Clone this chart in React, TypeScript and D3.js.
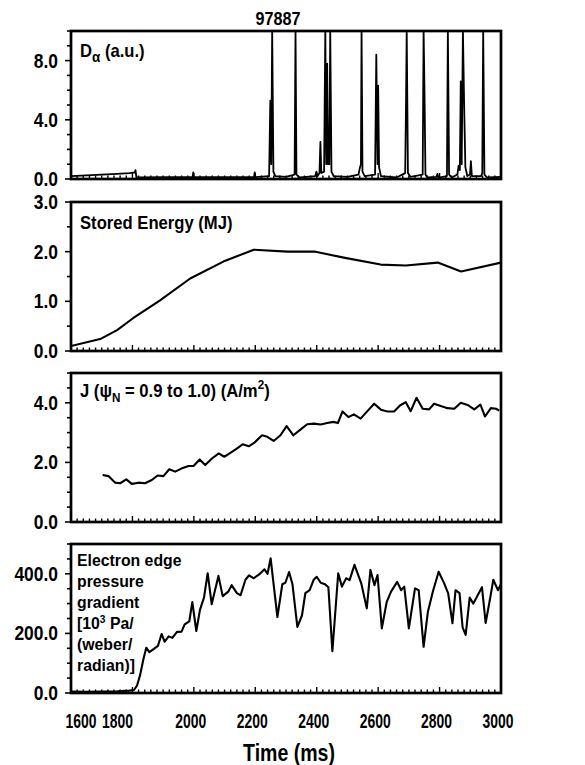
import React from "react";
import * as d3 from "d3";

// shot number and time axis
const shotNumber = "97887";
const timeDomain: [number, number] = [1600, 3000];
const timeTicks = [1600, 1800, 2000, 2200, 2400, 2600, 2800, 3000];

// D-alpha trace (a.u.), spikes clipped at top of panel
const daTrace: [number, number][] = [
  [1600, 0.2], [1650, 0.25], [1700, 0.3], [1750, 0.35], [1790, 0.4], [1808, 0.45], [1810, 0.6], [1813, 0.1],
  [1900, 0.12], [1996, 0.12], [1998, 0.45], [2000, 0.12], [2100, 0.12], [2196, 0.12], [2198, 0.45], [2200, 0.12],
  [2245, 0.2], [2249, 5.3], [2252, 1], [2255, 10], [2259, 0.5], [2265, 0.2], [2300, 0.15], [2328, 0.3],
  [2331, 10], [2334, 0.3], [2345, 0.1], [2395, 0.2], [2399, 0.5], [2403, 0.2], [2409, 0.4], [2412, 2.5],
  [2415, 0.4], [2424, 0.5], [2428, 10], [2431, 1], [2434, 7.8], [2437, 1], [2441, 1], [2444, 10], [2448, 0.5],
  [2455, 0.2], [2500, 0.15], [2536, 0.3], [2541, 0.8], [2544, 1], [2546, 10], [2549, 0.5], [2556, 0.2],
  [2590, 0.3], [2594, 8.4], [2598, 1], [2600, 6.3], [2603, 0.8], [2609, 0.2], [2660, 0.1], [2688, 0.4],
  [2691, 5.5], [2693, 10], [2697, 0.4], [2705, 0.15], [2745, 0.3], [2748, 10], [2751, 5.8], [2754, 0.3],
  [2760, 0.1], [2790, 0.15], [2793, 0.35], [2796, 0.1], [2824, 0.2], [2827, 10], [2831, 0.3], [2840, 0.1],
  [2858, 0.3], [2862, 0.9], [2866, 0.6], [2869, 6.6], [2872, 1], [2876, 10], [2880, 5], [2884, 0.8],
  [2890, 0.2], [2899, 0.3], [2902, 1.2], [2905, 0.2], [2935, 0.2], [2939, 0.4], [2942, 10], [2946, 0.3],
  [2955, 0.1], [3000, 0.15],
];

// stored energy (MJ)
const energyTrace: [number, number][] = [
  [1600, 0.1], [1695, 0.24], [1750, 0.42], [1802, 0.66], [1890, 1.02], [1988, 1.46], [2096, 1.8], [2195, 2.04],
  [2305, 2.0], [2396, 2.0], [2488, 1.88], [2608, 1.74], [2690, 1.72], [2794, 1.78], [2870, 1.6], [3000, 1.78],
];

// J at psi_N 0.9-1.0 (A/m^2)
const currentTrace: [number, number][] = [
  [1703, 1.58], [1722, 1.54], [1744, 1.32], [1760, 1.3], [1780, 1.43], [1798, 1.28], [1820, 1.32], [1841, 1.3],
  [1863, 1.41], [1882, 1.56], [1901, 1.54], [1920, 1.77], [1939, 1.69], [1961, 1.8], [1983, 1.88], [1999, 1.88],
  [2019, 2.1], [2037, 1.91], [2059, 2.13], [2081, 2.3], [2099, 2.19], [2119, 2.32], [2141, 2.47], [2159, 2.61],
  [2179, 2.54], [2197, 2.66], [2222, 2.91], [2239, 2.86], [2260, 2.72], [2282, 2.91], [2302, 3.22], [2324, 2.91],
  [2348, 3.11], [2369, 3.28], [2391, 3.3], [2413, 3.27], [2434, 3.32], [2454, 3.36], [2469, 3.32], [2484, 3.71],
  [2503, 3.52], [2521, 3.61], [2543, 3.47], [2565, 3.72], [2587, 3.97], [2609, 3.77], [2630, 3.71], [2652, 3.71],
  [2671, 3.91], [2690, 4.02], [2706, 3.72], [2725, 4.17], [2745, 3.8], [2766, 3.78], [2782, 3.97], [2804, 3.89],
  [2826, 3.82], [2848, 3.8], [2869, 4.0], [2891, 3.93], [2913, 3.78], [2933, 3.94], [2948, 3.54], [2967, 3.82],
  [2984, 3.8], [2994, 3.74],
];

// electron edge pressure gradient (10^3 Pa/(weber/radian))
const pressureTrace: [number, number][] = [
  [1600, 5], [1650, 4], [1700, 5], [1750, 6], [1790, 8], [1805, 10], [1815, 25], [1825, 60], [1835, 110],
  [1845, 152], [1855, 137], [1870, 148], [1883, 158], [1895, 198], [1905, 172], [1918, 190], [1930, 185],
  [1945, 205], [1960, 206], [1970, 230], [1985, 240], [1995, 305], [2008, 208], [2020, 280], [2033, 320],
  [2045, 402], [2058, 298], [2080, 393], [2094, 325], [2112, 340], [2123, 362], [2140, 335], [2152, 328],
  [2168, 380], [2180, 395], [2195, 385], [2215, 400], [2230, 415], [2240, 400], [2250, 452], [2272, 255],
  [2288, 365], [2298, 370], [2310, 406], [2321, 365], [2337, 222], [2352, 260], [2363, 335], [2377, 345],
  [2390, 380], [2400, 390], [2413, 370], [2427, 365], [2438, 355], [2451, 140], [2470, 402], [2482, 357],
  [2496, 385], [2507, 379], [2523, 430], [2545, 368], [2563, 284], [2575, 413], [2588, 362], [2598, 396],
  [2612, 217], [2628, 306], [2642, 340], [2662, 373], [2675, 345], [2685, 357], [2700, 217], [2720, 351],
  [2732, 345], [2748, 155], [2762, 273], [2778, 340], [2797, 407], [2815, 368], [2828, 334], [2842, 234],
  [2852, 345], [2865, 335], [2875, 220], [2885, 195], [2898, 320], [2910, 300], [2925, 330], [2938, 355],
  [2950, 235], [2965, 320], [2975, 380], [2990, 345], [3000, 365],
];

const daTicks = [0, 4, 8];
const energyTicks = [0, 1, 2, 3];
const currentTicks = [0, 2, 4];
const pressureTicks = [0, 200, 400];

const FONT = "'Liberation Sans', Arial, Helvetica, sans-serif";

const X0 = 71;
const X1 = 501;

type Panel = {
  id: string;
  top: number;
  bottom: number;
  domain: [number, number];
  labelTicks: number[];
  minorStep: number;
  data: [number, number][];
};

const panels: Panel[] = [
  { id: "da", top: 31, bottom: 179, domain: [0, 10], labelTicks: daTicks, minorStep: 1, data: daTrace },
  { id: "we", top: 202, bottom: 351, domain: [0, 3], labelTicks: energyTicks, minorStep: 0.5, data: energyTrace },
  { id: "j", top: 373, bottom: 522, domain: [0, 5], labelTicks: currentTicks, minorStep: 0.5, data: currentTrace },
  { id: "pe", top: 544, bottom: 693, domain: [0, 500], labelTicks: pressureTicks, minorStep: 50, data: pressureTrace },
];

// condensed bold text, like the narrow Helvetica of the original
function T({
  x,
  y,
  size,
  sx = 0.78,
  anchor = "start",
  children,
}: {
  x: number;
  y: number;
  size: number;
  sx?: number;
  anchor?: string;
  children: React.ReactNode;
}) {
  return (
    <text
      transform={`translate(${x},${y}) scale(${sx},1)`}
      textAnchor={anchor}
      fontFamily={FONT}
      fontWeight={700}
      fontSize={size}
      fill="#000"
    >
      {children}
    </text>
  );
}

function PanelLabel({ id, x, y }: { id: string; x: number; y: number }) {
  if (id === "da")
    return (
      <T x={x} y={y} size={18.5} sx={0.9}>
        D<tspan dy={5} fontSize={15}>α</tspan>
        <tspan dy={-5}> (a.u.)</tspan>
      </T>
    );
  if (id === "we")
    return (
      <T x={x} y={y} size={18.5} sx={0.9}>
        Stored Energy (MJ)
      </T>
    );
  if (id === "j")
    return (
      <T x={x} y={y} size={18.5} sx={0.9}>
        J (ψ<tspan dy={5} fontSize={13}>N</tspan>
        <tspan dy={-5}> = 0.9 to 1.0) (A/m</tspan>
        <tspan dy={-8} fontSize={13}>2</tspan>
        <tspan dy={8}>)</tspan>
      </T>
    );
  const lines = ["Electron edge", "pressure", "gradient", null, "(weber/", "radian)]"];
  return (
    <g>
      {lines.map((l, i) => (
        <T key={i} x={x} y={y + i * 21} size={17} sx={0.93}>
          {l === null ? (
            <>
              [10<tspan dy={-6} fontSize={11}>3</tspan>
              <tspan dy={6}> Pa/</tspan>
            </>
          ) : (
            l
          )}
        </T>
      ))}
    </g>
  );
}

export default function App() {
  const x = d3.scaleLinear().domain(timeDomain).range([X0, X1]);
  const xMinor = d3.range(timeDomain[0], timeDomain[1] + 1, 20);
  // the first two time labels are pushed apart in the original figure
  const labelNudge: Record<number, number> = { 1600: 10, 1800: -15 };

  return (
    <svg width={585} height={765} style={{ position: "absolute", left: 0, top: 0, background: "#fff" }}>
      <rect width={585} height={765} fill="#fff" />
      <T x={278} y={25} size={19} sx={0.85} anchor="middle">
        {shotNumber}
      </T>
      {panels.map((p) => {
        const y = d3.scaleLinear().domain(p.domain).range([p.bottom, p.top]);
        const line = d3
          .line<[number, number]>()
          .x((d) => x(d[0]))
          .y((d) => y(d[1]));
        const yMinor = d3.range(p.domain[0], p.domain[1] + p.minorStep / 2, p.minorStep);
        return (
          <g key={p.id}>
            <defs>
              <clipPath id={`clip-${p.id}`}>
                <rect x={X0} y={p.top} width={X1 - X0} height={p.bottom - p.top} />
              </clipPath>
            </defs>
            <path
              d={line(p.data) || ""}
              fill="none"
              stroke="#000"
              strokeWidth={p.id === "da" ? 1.8 : 2.1}
              strokeLinejoin="round"
              clipPath={`url(#clip-${p.id})`}
            />
            {xMinor.map((t) => {
              const major = (t - 1600) % 200 === 0;
              return (
                <line key={t} x1={x(t)} x2={x(t)} y1={p.bottom} y2={p.bottom - (major ? 6 : 3.5)} stroke="#000" strokeWidth={1.4} />
              );
            })}
            {yMinor.map((v) => {
              const major = p.labelTicks.some((t) => Math.abs(t - v) < 1e-9);
              return (
                <line key={v} x1={X0} x2={X0 - (major ? 6 : 4)} y1={y(v)} y2={y(v)} stroke="#000" strokeWidth={1.6} />
              );
            })}
            {p.labelTicks.map((v) => (
              <T key={v} x={58} y={y(v) + 7} size={20.5} sx={0.85} anchor="end">
                {v.toFixed(1)}
              </T>
            ))}
            <rect x={X0} y={p.top} width={X1 - X0} height={p.bottom - p.top} fill="none" stroke="#000" strokeWidth={2.7} />
            <PanelLabel
              id={p.id}
              x={p.id === "pe" ? 77 : 80}
              y={p.id === "da" ? 57 : p.id === "we" ? 229 : p.id === "j" ? 397 : 566}
            />
          </g>
        );
      })}
      {timeTicks.map((t) => (
        <T key={t} x={x(t) + (labelNudge[t] ?? -3)} y={728} size={20.5} sx={0.68} anchor="middle">
          {t}
        </T>
      ))}
      <T x={289} y={761} size={23} sx={0.85} anchor="middle">
        Time (ms)
      </T>
    </svg>
  );
}
